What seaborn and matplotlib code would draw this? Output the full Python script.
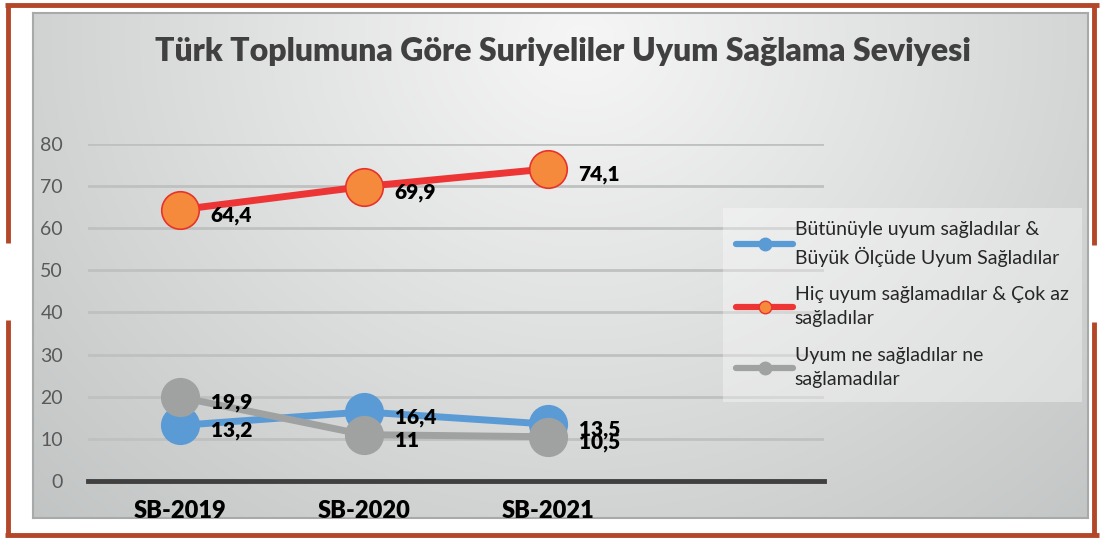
"""Line chart: Türk Toplumuna Göre Suriyeliler Uyum Sağlama Seviyesi."""

import matplotlib.pyplot as plt
import seaborn as sns
import pandas as pd
import numpy as np
from matplotlib.lines import Line2D

sns.set_style("white")
plt.rcParams['font.family'] = ['Lato', 'DejaVu Sans']

# Data
years = ['SB-2019', 'SB-2020', 'SB-2021']
series_names = [
    'Bütünüyle uyum sağladılar &\nBüyük Ölçüde Uyum Sağladılar',
    'Hiç uyum sağlamadılar & Çok az\nsağladılar',
    'Uyum ne sağladılar ne\nsağlamadılar',
]
uyum = [13.2, 16.4, 13.5]
uyumsuz = [64.4, 69.9, 74.1]
kararsiz = [19.9, 11.0, 10.5]
value_labels = [['13,2', '16,4', '13,5'], ['64,4', '69,9', '74,1'], ['19,9', '11', '10,5']]
y_ticks = [0, 10, 20, 30, 40, 50, 60, 70, 80]

line_colors = ['#5b9bd5', '#ee3535', '#a0a2a2']
marker_faces = ['#5b9bd5', '#f58a3c', '#a0a2a2']
marker_edges = ['#5b9bd5', '#e8332a', '#a0a2a2']

df = pd.DataFrame({
    'Yıl': years * 3,
    'Değer': uyum + uyumsuz + kararsiz,
    'Seri': [series_names[0]] * 3 + [series_names[1]] * 3 + [series_names[2]] * 3,
    'Etiket': value_labels[0] + value_labels[1] + value_labels[2],
})
df['x'] = df['Yıl'].map({y: i for i, y in enumerate(years)})

W, H = 1104, 540
fig = plt.figure(figsize=(W / 100, H / 100), dpi=100)
fig.patch.set_facecolor('white')

# gradient chart background
bg = fig.add_axes([33 / W, 1 - 518 / H, (1088 - 33) / W, (518 - 13) / H], zorder=-5)
gx, gy = np.meshgrid(np.linspace(0, 1, 400), np.linspace(0, 1, 200))
dist = np.sqrt(((gx - 0.52) / 0.7) ** 2 + ((gy - 0.05) / 1.3) ** 2)
dist = np.clip(dist / dist.max(), 0, 1)
light = np.array([0.965, 0.965, 0.965])
dark = np.array([0.76, 0.77, 0.77])
img = light[None, None, :] * (1 - dist[..., None]) + dark[None, None, :] * dist[..., None]
bg.imshow(img, aspect='auto', extent=(0, 1, 1, 0))
bg.set_xticks([])
bg.set_yticks([])
for s in bg.spines.values():
    s.set_color('#a8aaaa')
    s.set_linewidth(1.5)

# brown frame
brown = '#b3472a'
frame = [
    ([5, 1099], [5, 5]),
    ([5, 1099], [535, 535]),
    ([8, 8], [5, 243]),
    ([8, 8], [320, 535]),
    ([1094, 1094], [5, 245]),
    ([1094, 1094], [322, 535]),
]
for xs, ys in frame:
    fig.add_artist(Line2D([x / W for x in xs], [1 - y / H for y in ys],
                          color=brown, linewidth=3.5, solid_capstyle='butt'))

ax = fig.add_axes([88 / W, 1 - 481 / H, (824 - 88) / W, (481 - 144) / H])
ax.set_facecolor('none')

for i, name in enumerate(series_names):
    sub = df[df['Seri'] == name]
    sns.lineplot(data=sub, x='x', y='Değer', ax=ax, color=line_colors[i],
                 linewidth=5, marker='o', markersize=27,
                 markerfacecolor=marker_faces[i], markeredgecolor=marker_edges[i],
                 markeredgewidth=1.2, clip_on=False, zorder=3 + i, legend=False)
    for _, row in sub.iterrows():
        ax.annotate(row['Etiket'], (row['x'], row['Değer']), xytext=(22, -4),
                    textcoords='offset points', ha='left', va='center',
                    fontsize=15, fontweight='heavy', color='black', zorder=10)

ax.set_xlim(-0.5, 3.5)
ax.set_ylim(0, 80)
ax.set_yticks(y_ticks)
ax.set_xticks(range(len(years)))
ax.set_xticklabels(years, fontsize=17, fontweight='heavy', color='black')
ax.tick_params(axis='y', labelsize=14, labelcolor='#595959', length=0, pad=18)
ax.tick_params(axis='x', length=0, pad=14)
ax.set_xlabel('')
ax.set_ylabel('')
ax.grid(axis='y', color='#bfc0c0', linewidth=2)
ax.set_axisbelow(True)
for side in ['top', 'right', 'left']:
    ax.spines[side].set_visible(False)
ax.spines['bottom'].set_color('#404040')
ax.spines['bottom'].set_linewidth(3.5)
ax.spines['bottom'].set_zorder(2)

fig.text(563 / W, 1 - 52 / H, 'Türk Toplumuna Göre Suriyeliler Uyum Sağlama Seviyesi',
         ha='center', va='center', fontsize=23, fontweight='heavy', color='#404040')

handles = [Line2D([], [], color=line_colors[i], linewidth=4.5, marker='o', markersize=9,
                  markerfacecolor=marker_faces[i], markeredgecolor=marker_edges[i])
           for i in range(3)]
leg = fig.legend(handles, series_names, loc='upper left',
                 bbox_to_anchor=(713 / W, 1 - 198 / H), fontsize=14,
                 frameon=True, fancybox=False, handlelength=2.9, handletextpad=0.1,
                 labelspacing=1.0, borderpad=0.7)
for t in leg.get_texts():
    t.set_linespacing(1.5)
leg.get_frame().set_facecolor('white')
leg.get_frame().set_alpha(0.35)
leg.get_frame().set_edgecolor('none')

plt.savefig('out.png', dpi=100)
plt.close()
